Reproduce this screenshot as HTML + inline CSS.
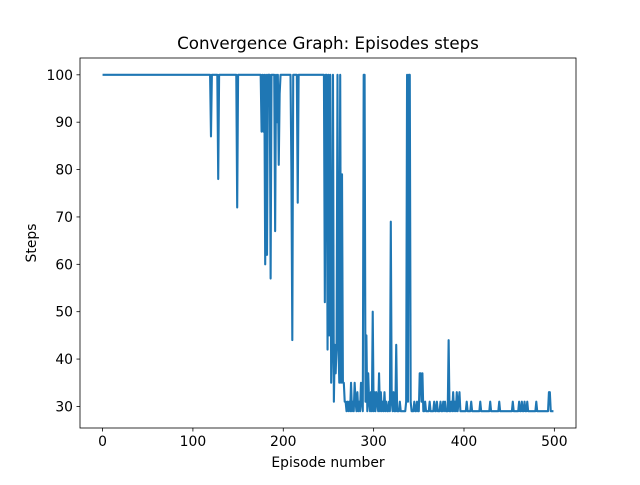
<!DOCTYPE html>
<html><head><meta charset="utf-8"><style>
html,body{margin:0;padding:0;background:#fff;}
svg text{font-family:"DejaVu Sans","Liberation Sans",sans-serif;fill:#000;}
</style></head><body>
<svg id="chart" width="640" height="480" viewBox="0 0 640 480" xmlns="http://www.w3.org/2000/svg">
<rect width="640" height="480" fill="#fff"/>
<text x="328" y="49" font-size="16.7" text-anchor="middle">Convergence Graph: Episodes steps</text>
<text x="328" y="467" font-size="13.9" text-anchor="middle">Episode number</text>
<text x="0" y="0" font-size="13.9" text-anchor="middle" transform="translate(36,243) rotate(-90)">Steps</text>
<g id="ticks"></g>
<path id="series" fill="none" stroke="#1f77b4" stroke-width="2.1" stroke-linejoin="round"/>
<rect x="80" y="58" width="496" height="370" fill="none" stroke="#000" stroke-width="0.8"/>
</svg>
<script>
const xTicks=[0,100,200,300,400,500];
const yTicks=[30,40,50,60,70,80,90,100];
const steps=[
100,100,100,100,100,100,100,100,100,100,
100,100,100,100,100,100,100,100,100,100,
100,100,100,100,100,100,100,100,100,100,
100,100,100,100,100,100,100,100,100,100,
100,100,100,100,100,100,100,100,100,100,
100,100,100,100,100,100,100,100,100,100,
100,100,100,100,100,100,100,100,100,100,
100,100,100,100,100,100,100,100,100,100,
100,100,100,100,100,100,100,100,100,100,
100,100,100,100,100,100,100,100,100,100,
100,100,100,100,100,100,100,100,100,100,
100,100,100,100,100,100,100,100,100,100,
87,100,100,100,100,100,100,100,78,100,
100,100,100,100,100,100,100,100,100,100,
100,100,100,100,100,100,100,100,100,72,
100,100,100,100,100,100,100,100,100,100,
100,100,100,100,100,100,100,100,100,100,
100,100,100,100,100,100,88,100,88,100,
60,100,62,100,100,100,57,100,100,100,
100,67,100,90,100,81,96,100,100,100,
100,100,100,100,100,100,100,100,100,80,
44,100,100,100,100,100,73,100,100,100,
100,100,100,100,100,100,100,100,100,100,
100,100,100,100,100,100,100,100,100,100,
100,100,100,100,100,100,52,100,100,42,
100,45,100,35,43,100,31,43,37,43,
100,43,35,100,35,79,35,35,31,31,
29,31,29,31,29,35,29,31,29,35,
31,29,33,29,31,29,35,31,29,100,
100,31,45,29,37,31,29,33,29,50,
29,33,29,33,31,29,37,29,33,29,
31,29,33,29,31,29,29,31,29,69,
31,29,33,29,29,43,29,29,29,31,
29,29,29,29,29,29,31,100,31,100,
100,31,29,29,29,31,29,29,31,29,
29,37,37,31,37,29,29,31,29,29,
29,29,31,29,29,29,29,31,29,29,
31,29,29,29,31,29,29,31,29,31,
29,29,29,44,29,29,31,29,33,29,
31,29,33,29,31,33,29,29,29,29,
29,29,29,31,29,29,29,29,31,29,
29,29,29,29,29,29,29,29,31,29,
29,29,29,29,29,29,29,29,29,31,
29,29,29,29,29,29,29,29,29,31,
29,29,29,29,29,29,29,29,29,29,
29,29,29,29,31,29,29,29,29,29,
29,31,29,29,31,29,29,31,29,29,
31,29,29,29,29,29,29,29,29,29,
31,29,29,29,29,29,29,29,29,29,
29,29,29,29,33,33,29,29,29,29
];
const L=80,R=576,T=58,B=428;
const n=steps.length;
const xMin=-(n-1)*0.05, xMax=(n-1)*1.05;
const dMin=Math.min(...steps), dMax=Math.max(...steps), pad=(dMax-dMin)*0.05;
const yMin=dMin-pad, yMax=dMax+pad;
function sx(v){return L+(v-xMin)/(xMax-xMin)*(R-L);}
function sy(v){return B-(v-yMin)/(yMax-yMin)*(B-T);}
const NS="http://www.w3.org/2000/svg";
const g=document.getElementById('ticks');
function mk(tag,attrs){const e=document.createElementNS(NS,tag);for(const k in attrs)e.setAttribute(k,attrs[k]);return e;}
xTicks.forEach(t=>{
  const x=sx(t);
  const l=mk('line',{x1:x,x2:x,y1:B,y2:B+3.5,stroke:'#000','stroke-width':0.8});
  
  
  g.appendChild(l);
  const tx=mk('text',{x:x,y:B+18,'font-size':13.9,'text-anchor':'middle'});
  
  
  tx.textContent=t;g.appendChild(tx);
});
yTicks.forEach(t=>{
  const y=sy(t);
  const l=mk('line',{x1:L-3.5,x2:L,y1:y,y2:y,stroke:'#000','stroke-width':0.8});
  
  
  g.appendChild(l);
  const tx=mk('text',{x:L-7,y:y+5,'font-size':13.9,'text-anchor':'end'});
  
  
  tx.textContent=t;g.appendChild(tx);
});
let d='';
steps.forEach((v,i)=>{d+=(i?'L':'M')+sx(i).toFixed(2)+','+sy(v).toFixed(2);});
document.getElementById('series').setAttribute('d',d);
</script>
</body></html>
